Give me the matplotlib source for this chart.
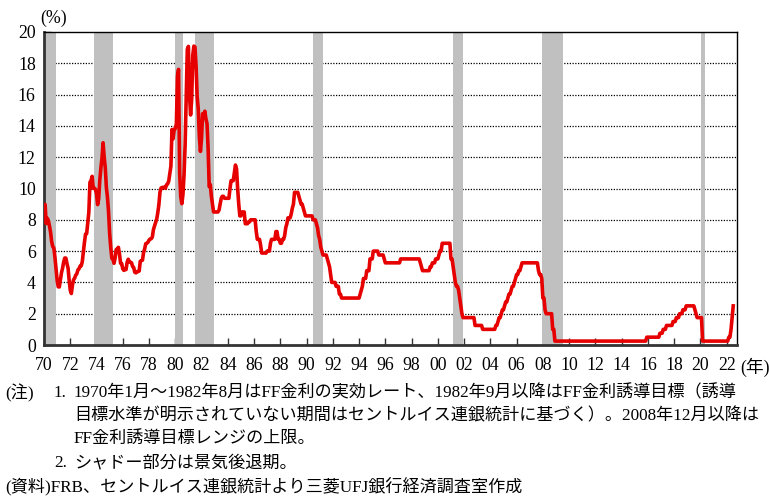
import numpy as np
import matplotlib
matplotlib.use("Agg")
import matplotlib.pyplot as plt

# ---- Data -------------------------------------------------------------
# Effective FF rate, monthly, Jan 1970 - Aug 1982 (%)
eff_start = 1970
eff_values = [
    8.98, 8.98, 7.76, 8.10, 7.95, 7.61, 7.21, 6.61, 6.29, 6.20, 5.60, 4.90,   # 1970
    4.14, 3.72, 3.71, 4.15, 4.63, 4.91, 5.31, 5.56, 5.55, 5.20, 4.91, 4.14,   # 1971
    3.50, 3.29, 3.83, 4.17, 4.27, 4.46, 4.55, 4.80, 4.87, 5.04, 5.06, 5.33,   # 1972
    5.94, 6.58, 7.09, 7.12, 7.84, 8.49, 10.40, 10.50, 10.78, 10.01, 10.03, 9.95,  # 1973
    9.65, 8.97, 9.35, 10.51, 11.31, 11.93, 12.92, 12.01, 11.34, 10.06, 9.45, 8.53,  # 1974
    7.13, 6.24, 5.54, 5.49, 5.22, 5.55, 6.10, 6.14, 6.24, 5.82, 5.22, 5.20,   # 1975
    4.87, 4.77, 4.84, 4.82, 5.29, 5.48, 5.31, 5.29, 5.25, 5.02, 4.95, 4.65,   # 1976
    4.61, 4.68, 4.69, 4.73, 5.35, 5.39, 5.42, 5.90, 6.14, 6.47, 6.51, 6.56,   # 1977
    6.70, 6.78, 6.79, 6.89, 7.36, 7.60, 7.81, 8.04, 8.45, 8.96, 9.76, 10.03,  # 1978
    10.07, 10.06, 10.09, 10.01, 10.24, 10.29, 10.47, 10.94, 11.43, 13.77, 13.18, 13.78,  # 1979
    13.82, 14.13, 17.19, 17.61, 10.98, 9.47, 9.03, 9.61, 10.87, 12.81, 15.85, 18.90,  # 1980
    19.08, 15.93, 14.70, 15.72, 18.52, 19.10, 19.04, 17.82, 15.87, 15.08, 13.31, 12.37,  # 1981
    13.22, 14.78, 14.68, 14.94, 14.45, 14.15, 12.59, 10.12,                   # 1982 Jan-Aug
]

# FF target (upper bound from Dec 2008): change points (year, month) -> level
target_dates = [
    (1982, 9), (1982, 10), (1982, 11), (1982, 12),
    (1983, 5), (1983, 6), (1983, 7), (1983, 8), (1983, 10),
    (1984, 3), (1984, 4), (1984, 7), (1984, 8), (1984, 9), (1984, 10), (1984, 11), (1984, 12),
    (1985, 2), (1985, 5), (1985, 8), (1985, 10),
    (1986, 3), (1986, 4), (1986, 7), (1986, 8),
    (1987, 1), (1987, 4), (1987, 5), (1987, 9), (1987, 11),
    (1988, 1), (1988, 3), (1988, 5), (1988, 6), (1988, 7), (1988, 8), (1988, 11), (1988, 12),
    (1989, 1), (1989, 2), (1989, 6), (1989, 7), (1989, 8), (1989, 10), (1989, 11), (1989, 12),
    (1990, 7), (1990, 10), (1990, 11), (1990, 12),
    (1991, 1), (1991, 2), (1991, 3), (1991, 4), (1991, 8), (1991, 9), (1991, 10), (1991, 11), (1991, 12),
    (1992, 4), (1992, 7), (1992, 9),
    (1994, 2), (1994, 3), (1994, 4), (1994, 5), (1994, 8), (1994, 11),
    (1995, 2), (1995, 7), (1995, 12),
    (1996, 1), (1997, 3),
    (1998, 9), (1998, 10), (1998, 11),
    (1999, 6), (1999, 8), (1999, 11),
    (2000, 2), (2000, 3), (2000, 5),
    (2001, 1), (2001, 3), (2001, 4), (2001, 5), (2001, 6), (2001, 8), (2001, 9), (2001, 10), (2001, 11), (2001, 12),
    (2002, 11), (2003, 6),
    (2004, 6), (2004, 8), (2004, 9), (2004, 11), (2004, 12),
    (2005, 2), (2005, 3), (2005, 5), (2005, 6), (2005, 8), (2005, 9), (2005, 11), (2005, 12),
    (2006, 1), (2006, 3), (2006, 5), (2006, 6),
    (2007, 9), (2007, 10), (2007, 12),
    (2008, 1), (2008, 3), (2008, 4), (2008, 10), (2008, 12),
    (2015, 12), (2016, 12),
    (2017, 3), (2017, 6), (2017, 12),
    (2018, 3), (2018, 6), (2018, 9), (2018, 12),
    (2019, 8), (2019, 9), (2019, 10),
    (2020, 3),
    (2022, 3), (2022, 5), (2022, 6), (2022, 7),
]
target_values = [
    10.25, 9.5, 9.0, 8.5,
    8.625, 9.0, 9.375, 9.5, 9.375,
    10.0, 10.5, 11.0, 11.5, 11.25, 10.0, 9.0, 8.25,
    8.5, 7.75, 7.875, 8.0,
    7.25, 6.75, 6.375, 5.875,
    6.0, 6.5, 6.75, 7.25, 6.75,
    6.5, 6.75, 7.0, 7.5, 7.75, 8.125, 8.375, 8.75,
    9.0, 9.75, 9.5, 9.25, 9.0, 8.75, 8.5, 8.25,
    8.0, 7.75, 7.5, 7.0,
    6.75, 6.25, 6.0, 5.75, 5.5, 5.25, 5.0, 4.5, 4.0,
    3.75, 3.25, 3.0,
    3.25, 3.5, 3.75, 4.25, 4.75, 5.5,
    6.0, 5.75, 5.5,
    5.25, 5.5,
    5.25, 5.0, 4.75,
    5.0, 5.25, 5.5,
    5.75, 6.0, 6.5,
    5.5, 5.0, 4.5, 4.0, 3.75, 3.5, 3.0, 2.5, 2.0, 1.75,
    1.25, 1.0,
    1.25, 1.5, 1.75, 2.0, 2.25,
    2.5, 2.75, 3.0, 3.25, 3.5, 3.75, 4.0, 4.25,
    4.5, 4.75, 5.0, 5.25,
    4.75, 4.5, 4.25,
    3.0, 2.25, 2.0, 1.0, 0.25,
    0.5, 0.75,
    1.0, 1.25, 1.5,
    1.75, 2.0, 2.25, 2.5,
    2.25, 2.0, 1.75,
    0.25,
    0.5, 1.0, 1.75, 2.5,
]
target_end = (2022, 7)

# NBER recessions (start, end) as (year, month)
recessions = [((1970, 1), (1970, 11)), ((1973, 11), (1975, 3)), ((1980, 1), (1980, 7)),
              ((1981, 7), (1982, 11)), ((1990, 7), (1991, 3)), ((2001, 3), (2001, 11)),
              ((2007, 12), (2009, 6)), ((2020, 2), (2020, 4))]

year_ticks = list(range(1970, 2023, 2))
year_labels = [f"{y % 100:02d}" for y in year_ticks]
y_ticks = list(range(0, 21, 2))

notes = [
    ("(注)", "1.", "1970年1月～1982年8月はFF金利の実効レート、1982年9月以降はFF金利誘導目標（誘導"),
    ("", "", "目標水準が明示されていない期間はセントルイス連銀統計に基づく）。2008年12月以降は"),
    ("", "", "FF金利誘導目標レンジの上限。"),
    ("", "2.", "シャドー部分は景気後退期。"),
]
source = "(資料)FRB、セントルイス連銀統計より三菱UFJ銀行経済調査室作成"

# ---- Build series -------------------------------------------------------
def ym(y, m):
    return y + (m - 1) / 12.0

eff_x = np.array([eff_start + i / 12.0 for i in range(len(eff_values))])
eff_y = np.array(eff_values)

# monthly target levels (level held until next change)
tx, ty = [], []
months = [(y, m) for y in range(1982, 2023) for m in range(1, 13)
          if (y, m) >= target_dates[0] and (y, m) <= target_end]
j = 0
for (y, m) in months:
    while j + 1 < len(target_dates) and target_dates[j + 1] <= (y, m):
        j += 1
    tx.append(ym(y, m))
    ty.append(target_values[j])

all_x = np.concatenate([eff_x, tx])
all_y = np.concatenate([eff_y, ty])

# ---- Plot ---------------------------------------------------------------
FAM = ['Liberation Serif', 'Noto Sans CJK JP']
plt.rcParams['font.family'] = FAM

W, H = 769, 496
fig = plt.figure(figsize=(W / 100, H / 100), dpi=100)
ax_l, ax_r, ax_t, ax_b = 44, 736.5, 32, 345
ax = fig.add_axes([ax_l / W, 1 - ax_b / H, (ax_r - ax_l) / W, (ax_b - ax_t) / H])

for y in y_ticks[1:-1]:
    ax.axhline(y, color='black', lw=0.9, ls=(0, (1, 1.2)), zorder=1)

for (s, e) in recessions:
    ax.axvspan(ym(*s), ym(*e) + 1 / 12.0, color='#c0c0c0', lw=0, zorder=2)

ax.plot(all_x, all_y, color='#e60000', lw=2.6, solid_joinstyle='round', zorder=3)

ax.set_xlim(1970, 2022.75)
ax.set_ylim(0, 20)
ax.set_xticks(year_ticks)
ax.set_xticklabels(year_labels)
ax.set_yticks(y_ticks)
ax.tick_params(axis='both', direction='in', length=5, width=1, labelsize=12.8, color='#333333')
ax.tick_params(axis='x', pad=9)
ax.tick_params(axis='y', pad=6)
for side in ['left', 'bottom']:
    ax.spines[side].set_linewidth(2)
    ax.spines[side].set_color('#333333')
for side in ['top', 'right']:
    ax.spines[side].set_linewidth(1)
    ax.spines[side].set_color('black')

fig.text(40 / W, 1 - 18 / H, "(%)", fontsize=12.8, ha='left', va='center')
fig.text(740 / W, 1 - 367 / H, "(年)", fontsize=12.8, ha='left', va='center')

line_y = [393, 416, 439, 463]
for (a, b, c), yy in zip(notes, line_y):
    if a:
        fig.text(5 / W, 1 - yy / H, a, fontsize=12.3, ha='left', va='center')
    if b:
        fig.text(54 / W, 1 - yy / H, b, fontsize=12.3, ha='left', va='center')
    fig.text(74 / W, 1 - yy / H, c, fontsize=12.3, ha='left', va='center')
fig.text(5 / W, 1 - 486 / H, source, fontsize=12.3, ha='left', va='center')

fig.savefig("out.png", dpi=100)
